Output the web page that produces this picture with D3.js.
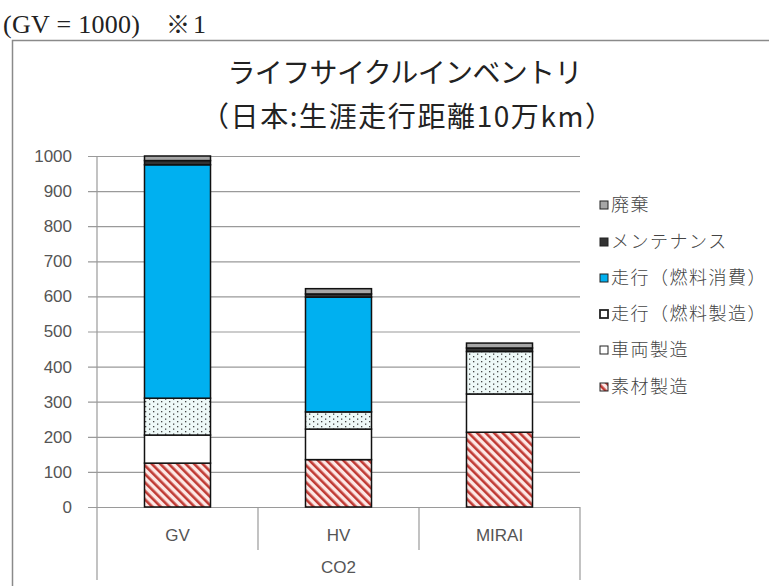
<!DOCTYPE html>
<html>
<head>
<meta charset="utf-8">
<script src="https://cdn.jsdelivr.net/npm/d3@7"></script>
<style>
  body { margin: 0; background: #fff; }
  svg { display: block; }
</style>
</head>
<body>
<div id="chart"></div>
<script>
// データ
const categories = ["GV", "HV", "MIRAI"];
const seriesNames = ["素材製造", "車両製造", "走行（燃料製造）", "走行（燃料消費）", "メンテナンス", "廃棄"];
const materialValues = [125, 135, 213];
const vehicleValues = [80, 87, 109];
const fuelProductionValues = [105, 49, 121];
const fuelConsumptionValues = [665, 327, 0];
const maintenanceValues = [12, 9, 10];
const disposalValues = [13, 15, 14];
const yTicks = [0, 100, 200, 300, 400, 500, 600, 700, 800, 900, 1000];
const groupLabel = "CO2";

const seriesValues = [materialValues, vehicleValues, fuelProductionValues,
    fuelConsumptionValues, maintenanceValues, disposalValues];

const W = 769, H = 586;
const svg = d3.select('#chart').append('svg')
    .attr('width', W)
    .attr('height', H);

const defs = svg.append('defs');

// 斜線 (素材製造)
const hatch = defs.append('pattern')
    .attr('id', 'hatch')
    .attr('patternUnits', 'userSpaceOnUse')
    .attr('width', 6).attr('height', 6)
    .attr('patternTransform', 'rotate(-45)');
hatch.append('rect').attr('width', 6).attr('height', 6).attr('fill', '#fde8e6');
hatch.append('rect').attr('x', 0).attr('width', 2.6).attr('height', 6).attr('fill', '#c03a34');

// ドット (燃料製造)
const dots = defs.append('pattern')
    .attr('id', 'dots')
    .attr('patternUnits', 'userSpaceOnUse')
    .attr('width', 8).attr('height', 5);
dots.append('rect').attr('width', 8).attr('height', 5).attr('fill', '#eef9f8');
dots.append('rect').attr('x', 1).attr('y', 1).attr('width', 1.3).attr('height', 1.3).attr('fill', '#444');
dots.append('rect').attr('x', 5).attr('y', 3.5).attr('width', 1.3).attr('height', 1.3).attr('fill', '#444');

const fills = ['url(#hatch)', '#ffffff', 'url(#dots)', '#00b0f0', '#333333', '#a6a6a6'];
// 凡例の四角は燃料製造だけ白
const legendFills = ['url(#hatch)', '#ffffff', '#ffffff', '#00b0f0', '#333333', '#a6a6a6'];

// 外枠
svg.append('rect')
    .attr('x', 12.5).attr('y', 40.5)
    .attr('width', 800).attr('height', 600)
    .attr('fill', 'none')
    .attr('stroke', '#8a8a8a')
    .attr('stroke-width', 1.5);

// 左上の注記
svg.append('text')
    .attr('x', 3).attr('y', 33)
    .attr('font-family', '"Liberation Serif", serif')
    .attr('font-size', 26)
    .attr('fill', '#222')
    .attr('textLength', 137)
    .text('(GV = 1000)');
svg.append('text')
    .attr('x', 166).attr('y', 33)
    .attr('font-family', '"Noto Sans CJK JP", sans-serif')
    .attr('font-size', 24)
    .attr('fill', '#222')
    .text('※');
svg.append('text')
    .attr('x', 193).attr('y', 33)
    .attr('font-family', '"Liberation Serif", serif')
    .attr('font-size', 26)
    .attr('fill', '#222')
    .text('1');

// タイトル
const title = svg.append('g')
    .attr('font-family', '"Noto Sans CJK JP", sans-serif')
    .attr('fill', '#222')
    .attr('text-anchor', 'middle');
title.append('text')
    .attr('x', 405).attr('y', 83)
    .attr('font-size', 28)
    .attr('textLength', 355)
    .text('ライフサイクルインベントリ');
title.append('text')
    .attr('x', 407).attr('y', 127)
    .attr('font-size', 28)
    .attr('textLength', 412)
    .text('（日本:生涯走行距離10万km）');

// スケール
const plotLeft = 97, plotRight = 580, plotTop = 156, plotBottom = 507;
const x = d3.scaleBand().domain(categories).range([plotLeft, plotRight]).paddingInner(0).paddingOuter(0);
const y = d3.scaleLinear().domain([0, 1000]).range([plotBottom, plotTop]);
const barW = x.bandwidth() * 0.41;

// Y軸 + グリッド
const yAxis = svg.append('g')
    .attr('transform', `translate(${plotLeft},0)`)
    .call(d3.axisLeft(y).tickValues(yTicks).tickFormat(d3.format('d'))
        .tickSize(-(plotRight - plotLeft)).tickPadding(16));
yAxis.select('.domain').remove();
yAxis.selectAll('.tick line')
    .attr('x1', -9)
    .attr('stroke', '#9a9a9a')
    .attr('stroke-width', 1.2);
yAxis.selectAll('.tick text')
    .attr('font-family', '"Liberation Sans", sans-serif')
    .attr('font-size', 17)
    .attr('fill', '#555')
    .attr('x', -25);

// 縦軸線
svg.append('line')
    .attr('x1', plotLeft).attr('x2', plotLeft)
    .attr('y1', plotTop).attr('y2', 580)
    .attr('stroke', '#9a9a9a').attr('stroke-width', 1.2);
svg.append('line')
    .attr('x1', plotRight).attr('x2', plotRight)
    .attr('y1', plotBottom).attr('y2', 580)
    .attr('stroke', '#9a9a9a').attr('stroke-width', 1.2);

// カテゴリ区切り
categories.slice(1).forEach(c => {
    svg.append('line')
        .attr('x1', x(c)).attr('x2', x(c))
        .attr('y1', plotBottom).attr('y2', 550)
        .attr('stroke', '#9a9a9a').attr('stroke-width', 1.2);
});

// カテゴリラベル
svg.append('g').selectAll('text')
    .data(categories)
    .join('text')
    .attr('x', d => x(d) + x.bandwidth() / 2)
    .attr('y', 541)
    .attr('text-anchor', 'middle')
    .attr('font-family', '"Liberation Sans", sans-serif')
    .attr('font-size', 17)
    .attr('fill', '#555')
    .text(d => d);
svg.append('text')
    .attr('x', (plotLeft + plotRight) / 2)
    .attr('y', 573)
    .attr('text-anchor', 'middle')
    .attr('font-family', '"Liberation Sans", sans-serif')
    .attr('font-size', 17)
    .attr('fill', '#555')
    .text(groupLabel);

// 積み上げ
const table = categories.map((c, i) => {
    const row = { cat: c };
    seriesNames.forEach((s, j) => { row[s] = seriesValues[j][i]; });
    return row;
});
const stacked = d3.stack().keys(seriesNames)(table);

const bars = svg.append('g');
stacked.forEach((layer, j) => {
    bars.append('g').selectAll('rect')
        .data(layer.filter(d => d[1] - d[0] > 0))
        .join('rect')
        .attr('x', d => x(d.data.cat) + (x.bandwidth() - barW) / 2)
        .attr('y', d => y(d[1]))
        .attr('width', barW)
        .attr('height', d => y(d[0]) - y(d[1]))
        .attr('fill', fills[j])
        .attr('stroke', '#111')
        .attr('stroke-width', 1.5);
});

// 凡例 (上から 廃棄 ... 素材製造)
const legendY = [205, 242, 278, 314, 350, 387];
const legend = svg.append('g');
seriesNames.slice().reverse().forEach((s, i) => {
    const j = seriesNames.length - 1 - i;
    const g = legend.append('g').attr('transform', `translate(600,${legendY[i]})`);
    g.append('rect')
        .attr('x', 0).attr('y', -4)
        .attr('width', 8).attr('height', 8)
        .attr('fill', legendFills[j])
        .attr('stroke', '#222')
        .attr('stroke-width', j === 2 ? 1.8 : 1);
    g.append('text')
        .attr('x', 11).attr('y', 6)
        .attr('font-family', '"Noto Sans CJK JP", sans-serif')
        .attr('font-size', 18)
        .attr('font-weight', 300)
        .attr('letter-spacing', 1.5)
        .attr('fill', '#444')
        .text(s);
});
</script>
</body>
</html>
